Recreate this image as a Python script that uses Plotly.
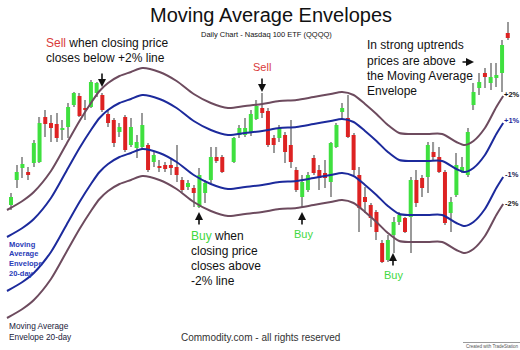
import plotly.graph_objects as go

# ---- candle data (price units; one bar per trading day, day 38 missing) ----
days = list(range(0, 38)) + list(range(39, 88))
opens = [145, 170, 182, 178, 187, 188, 233, 227, 226, 220, 223, 245, 254, 242, 243, 257, 255, 236, 230, 218,
         233, 205, 202, 203, 205, 188, 184, 185, 185, 183, 170, 163, 162, 143, 157, 170, 193, 193,
         188, 215, 215, 218, 231, 242, 239, 212, 212, 215, 205, 180, 153, 160, 192, 180, 177, 168, 203,
         238, 232, 215, 175, 153, 145, 138, 107, 90, 115, 128, 132, 133, 170, 172, 173, 198, 193, 178,
         137, 155, 178, 175, 245, 262, 277, 267, 272, 277, 317]
closes = [153, 178, 186, 175, 207, 227, 226, 222, 212, 222, 243, 257, 234, 240, 268, 267, 240, 227, 207, 223,
          200, 223, 208, 225, 180, 195, 182, 181, 182, 175, 160, 167, 157, 175, 167, 193, 189, 178,
          212, 222, 222, 236, 244, 237, 205, 205, 222, 198, 188, 160, 168, 175, 177, 172, 172, 207, 225,
          242, 213, 180, 142, 148, 132, 118, 88, 110, 128, 135, 118, 170, 147, 162, 205, 193, 178, 127,
          148, 185, 183, 218, 258, 268, 273, 273, 275, 305, 312]
highs = [157, 185, 193, 183, 210, 233, 240, 235, 237, 230, 247, 258, 257, 250, 270, 268, 257, 240, 232, 227,
         235, 232, 215, 237, 207, 198, 190, 188, 192, 205, 173, 170, 165, 182, 170, 203, 203, 195,
         213, 225, 232, 240, 250, 257, 242, 215, 225, 218, 230, 183, 175, 178, 195, 185, 190, 208, 227,
         247, 255, 217, 183, 163, 147, 140, 110, 115, 133, 138, 133, 173, 180, 175, 208, 208, 203, 180,
         153, 197, 193, 222, 267, 277, 282, 287, 287, 310, 328]
lows = [140, 162, 172, 170, 183, 187, 213, 208, 208, 210, 212, 243, 233, 230, 242, 253, 238, 223, 203, 213,
        198, 203, 192, 200, 178, 183, 178, 178, 175, 168, 158, 160, 143, 142, 147, 167, 187, 177,
        187, 212, 213, 214, 230, 232, 203, 197, 208, 187, 182, 158, 143, 158, 175, 160, 162, 153, 202,
        232, 212, 175, 118, 137, 123, 110, 87, 88, 97, 125, 117, 97, 143, 153, 157, 190, 177, 125,
        118, 153, 177, 173, 240, 255, 262, 260, 263, 258, 310]

# ---- 20-day moving average envelopes (read at sample days) ----
env_days = [-0.7, 2, 4, 7, 10, 12, 14, 15.5, 17, 19, 21, 23, 26, 29, 32, 35, 38, 41, 44, 47, 50, 53, 56, 58,
            60, 62, 64, 66, 68, 70, 73, 75.5, 78, 79.5, 81, 83, 85, 86.2]
env_plus2 = [140, 149, 158, 179, 209, 229, 247, 259, 267, 274, 278, 282, 278, 269, 256, 247, 242, 244, 246,
             249, 250, 253, 256, 258, 255, 246, 236, 225, 217, 216, 216, 216, 208, 205, 209, 222, 243, 254]
env_plus1 = [113, 122, 131, 152, 182, 202, 220, 232, 240, 247, 251, 255, 251, 242, 229, 220, 215, 217, 219,
             222, 223, 226, 229, 231, 228, 219, 209, 198, 190, 189, 189, 189, 181, 178, 182, 195, 216, 227]
env_minus1 = [59, 68, 77, 98, 128, 148, 166, 178, 186, 193, 197, 201, 197, 188, 175, 166, 161, 163, 165,
              168, 169, 172, 175, 177, 174, 165, 155, 144, 136, 135, 135, 135, 127, 124, 128, 141, 162, 173]
env_minus2 = [32, 41, 50, 71, 101, 121, 139, 151, 159, 166, 170, 174, 170, 161, 148, 139, 134, 136, 138,
              141, 142, 145, 148, 150, 147, 138, 128, 117, 109, 108, 108, 108, 100, 97, 101, 114, 135, 146]

GREEN = "#3fe03f"
RED = "#dd2222"
WICK = "#9a9a9a"
BLUE = "#1c2a9c"
MAUVE = "#6d4b5e"
FONT = "Liberation Sans, Arial, sans-serif"

W, H = 520, 350

fig = go.Figure()

# wicks
fig.add_trace(go.Bar(
    x=days, base=lows, y=[h - l for h, l in zip(highs, lows)],
    width=0.2, marker=dict(color=WICK, line=dict(width=0)), hoverinfo="skip", showlegend=False))
# bodies
fig.add_trace(go.Bar(
    x=days, base=[min(o, c) for o, c in zip(opens, closes)],
    y=[abs(c - o) for o, c in zip(opens, closes)],
    width=0.7,
    marker=dict(color=[GREEN if c >= o else RED for o, c in zip(opens, closes)], line=dict(width=0)),
    hoverinfo="skip", showlegend=False))

for vals, col in [(env_plus2, MAUVE), (env_plus1, BLUE), (env_minus1, BLUE), (env_minus2, MAUVE)]:
    fig.add_trace(go.Scatter(x=env_days, y=vals, mode="lines",
                             line=dict(color=col, width=2, shape="spline", smoothing=0.8),
                             hoverinfo="skip", showlegend=False))


def px(x):
    return x / W


def py(y):
    return 1 - y / H


ann = []


def text(x, y, s, size=12, color="#111", xanchor="left", bold=False, family=FONT):
    if bold:
        s = "<b>" + s + "</b>"
    ann.append(dict(x=px(x), y=py(y), xref="paper", yref="paper", text=s, showarrow=False,
                    xanchor=xanchor, yanchor="middle", font=dict(size=size, color=color, family=family)))


def arrow(x, y, dx, dy):
    ann.append(dict(x=px(x), y=py(y), xref="paper", yref="paper", text="", showarrow=True,
                    ax=dx, ay=dy, arrowhead=2, arrowsize=1, arrowwidth=1.6, arrowcolor="#111"))


text(271, 15, "Moving Average Envelopes", size=20, xanchor="center")
text(266, 34, "Daily Chart - Nasdaq 100 ETF (QQQQ)", size=7.5, xanchor="center")

text(44, 43, "<span style='color:#d93b3b'>Sell</span> when closing price", size=12)
text(44, 58, "closes below +2% line", size=12)
arrow(102, 87, 0, -15)

text(262, 67, "Sell", size=11, color="#d93b3b", xanchor="center")
arrow(262, 92, 0, -15)

text(365, 45, "In strong uptrends", size=12)
text(365, 61, "prices are above", size=12)
text(365, 76, "the Moving Average", size=12)
text(365, 91, "Envelope", size=12)
arrow(474, 62, -13, 0)

text(189, 236, "<span style='color:#3fd83f'>Buy</span> when", size=12)
text(189, 251, "closing price", size=12)
text(189, 266, "closes above", size=12)
text(189, 281, "-2% line", size=12)
arrow(199, 212, 0, 14)

text(303, 234, "Buy", size=11, color="#3fd83f", xanchor="center")
arrow(302, 212, 0, 14)

text(393, 275, "Buy", size=11, color="#3fd83f", xanchor="center")
arrow(393, 253, 0, 14)

text(502, 95, "+2%", size=7.5, color="#111", bold=True)
text(502, 120, "+1%", size=7.5, color=BLUE, bold=True)
text(503, 174, "-1%", size=7.5, color="#1a1a50", bold=True)
text(503, 203, "-2%", size=7.5, color="#111", bold=True)

for i, s in enumerate(["Moving", "Average", "Envelope", "20-day"]):
    text(7, 244 + i * 9.7, s, size=7.5, color="#2a3cb8", bold=True)

text(7, 326, "Moving Average", size=8.3, color="#1a1a3a")
text(7, 337, "Envelope 20-day", size=8.3, color="#1a1a3a")

text(260, 337, "Commodity.com - all rights reserved", size=10, color="#333", xanchor="center")
text(492, 346, "Created with TradeStation", size=4.5, color="#555", xanchor="center")

fig.update_layout(
    width=W, height=H, margin=dict(l=0, r=0, t=0, b=0),
    paper_bgcolor="white", plot_bgcolor="white",
    barmode="overlay", showlegend=False,
    xaxis=dict(range=[-11 / 5.71, 509 / 5.71], visible=False, fixedrange=True),
    yaxis=dict(range=[0, 350], visible=False, fixedrange=True),
    annotations=ann,
    shapes=[dict(type="line", xref="paper", yref="paper", x0=px(463), x1=px(520), y0=py(342.5), y1=py(342.5),
                 line=dict(color="#999", width=1))],
)

fig.write_html("out.html")
